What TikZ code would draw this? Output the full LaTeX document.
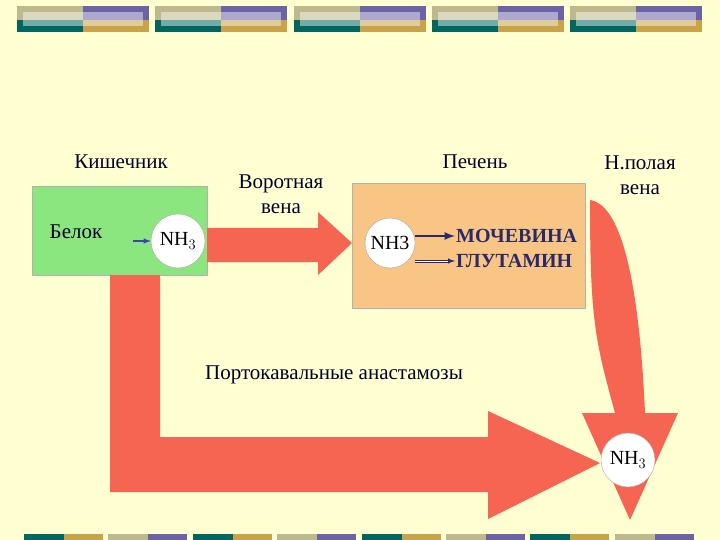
\documentclass[tikz,border=0pt]{standalone}
\usepackage{fontspec}
\setmainfont{Liberation Serif}
\begin{document}
\begin{tikzpicture}[x=1pt,y=-1pt,
  lbl/.style={font=\fontsize{21}{25}\selectfont,text=black!85!blue,align=center},
  circ/.style={circle,draw=gray!70,fill=white,minimum size=54pt,inner sep=0pt,font=\fontsize{20}{24}\selectfont}]
\definecolor{bg}{HTML}{FFFFD2}
\definecolor{khaki}{HTML}{BDB98C}
\definecolor{teal}{HTML}{00665F}
\definecolor{purp}{HTML}{6B63A6}
\definecolor{gold}{HTML}{C8A34A}
\definecolor{redc}{HTML}{F56552}
\definecolor{navy}{HTML}{2A2A6A}
\definecolor{gutc}{HTML}{8CE680}
\definecolor{livc}{HTML}{F8C585}
\fill[bg] (0,0) rectangle (720,540);
\useasboundingbox (0,0) rectangle (720,540);
% top banner
\foreach \x in {17,155,294,432,570}{
  \fill[khaki] (\x,6) rectangle ++(66,14);
  \fill[teal] (\x,20) rectangle ++(66,12);
  \fill[purp] (\x+66,6) rectangle ++(66,14);
  \fill[gold] (\x+66,20) rectangle ++(66,12);
  \fill[white,opacity=0.45] (\x+6,12) rectangle ++(120,14);
}
% bottom banner
\foreach \x/\a/\b in {24/teal/gold,108/khaki/purp,193/teal/gold,277/khaki/purp,362/teal/gold,446/khaki/purp,530/teal/gold,615/khaki/purp}{
  \fill[\a] (\x,534) rectangle ++(40,6);
  \fill[\b] (\x+40,534) rectangle ++(39,6);
}
% boxes
\node[draw=gray!60,fill=gutc,minimum width=175pt,minimum height=89pt,inner sep=0pt] (gut) at (119.5,230.5) {};
\node[draw=gray!60,fill=livc,minimum width=233pt,minimum height=125pt,inner sep=0pt] (liver) at (468.5,245.5) {};
% arrows
\fill[redc] (207,228) -- (318,228) -- (318,212) -- (352,243) -- (318,275) -- (318,262) -- (207,262) -- cycle;
\fill[redc] (110,275) -- (160,275) -- (160,437) -- (488,437) -- (488,411) -- (600,463) -- (488,519) -- (488,492) -- (110,492) -- cycle;
\fill[redc] (590,200) .. controls (625,205) and (640,300) .. (645,413) -- (678,413) -- (630,520) -- (582,413) -- (615,413) .. controls (595,340) and (590,320) .. (590,200) -- cycle;
% texts
\node[lbl] (kish) at (121,162) {Кишечник};
\node[lbl] (belok) at (76,232) {Белок};
\node[circ] (nh1) at (178,241) {NH$_3$};
\coordinate (bs) at (133,241);
\draw[-latex,gray!50!blue,line width=1.5pt] (bs) -- (nh1.west);
\node[lbl] (vor) at (281,194) {Воротная\\вена};
\node[lbl] (pech) at (475,162) {Печень};
\node[lbl] (pol) at (640,175) {Н.полая\\вена};
\node[circ,minimum size=50pt] (nh2) at (390,243) {NH3};
\node[lbl,font=\bfseries\fontsize{20}{24}\selectfont,text=navy,anchor=west,inner sep=1pt] (moch) at (455,236) {МОЧЕВИНА};
\node[lbl,font=\bfseries\fontsize{20}{24}\selectfont,text=navy,anchor=west,inner sep=1pt] (glu) at (455,261) {ГЛУТАМИН};
\draw[-latex,navy,line width=2.5pt] (nh2.east|-moch) -- (moch.west);
\draw[-latex,navy,line width=1pt,double=white,double distance=1pt] (nh2.east|-glu) -- (glu.west);
\node[lbl] (porto) at (334,375) {Портокавальные анастамозы};
\node[circ] (nh3) at (628,460) {NH$_3$};
\end{tikzpicture}
\end{document}
